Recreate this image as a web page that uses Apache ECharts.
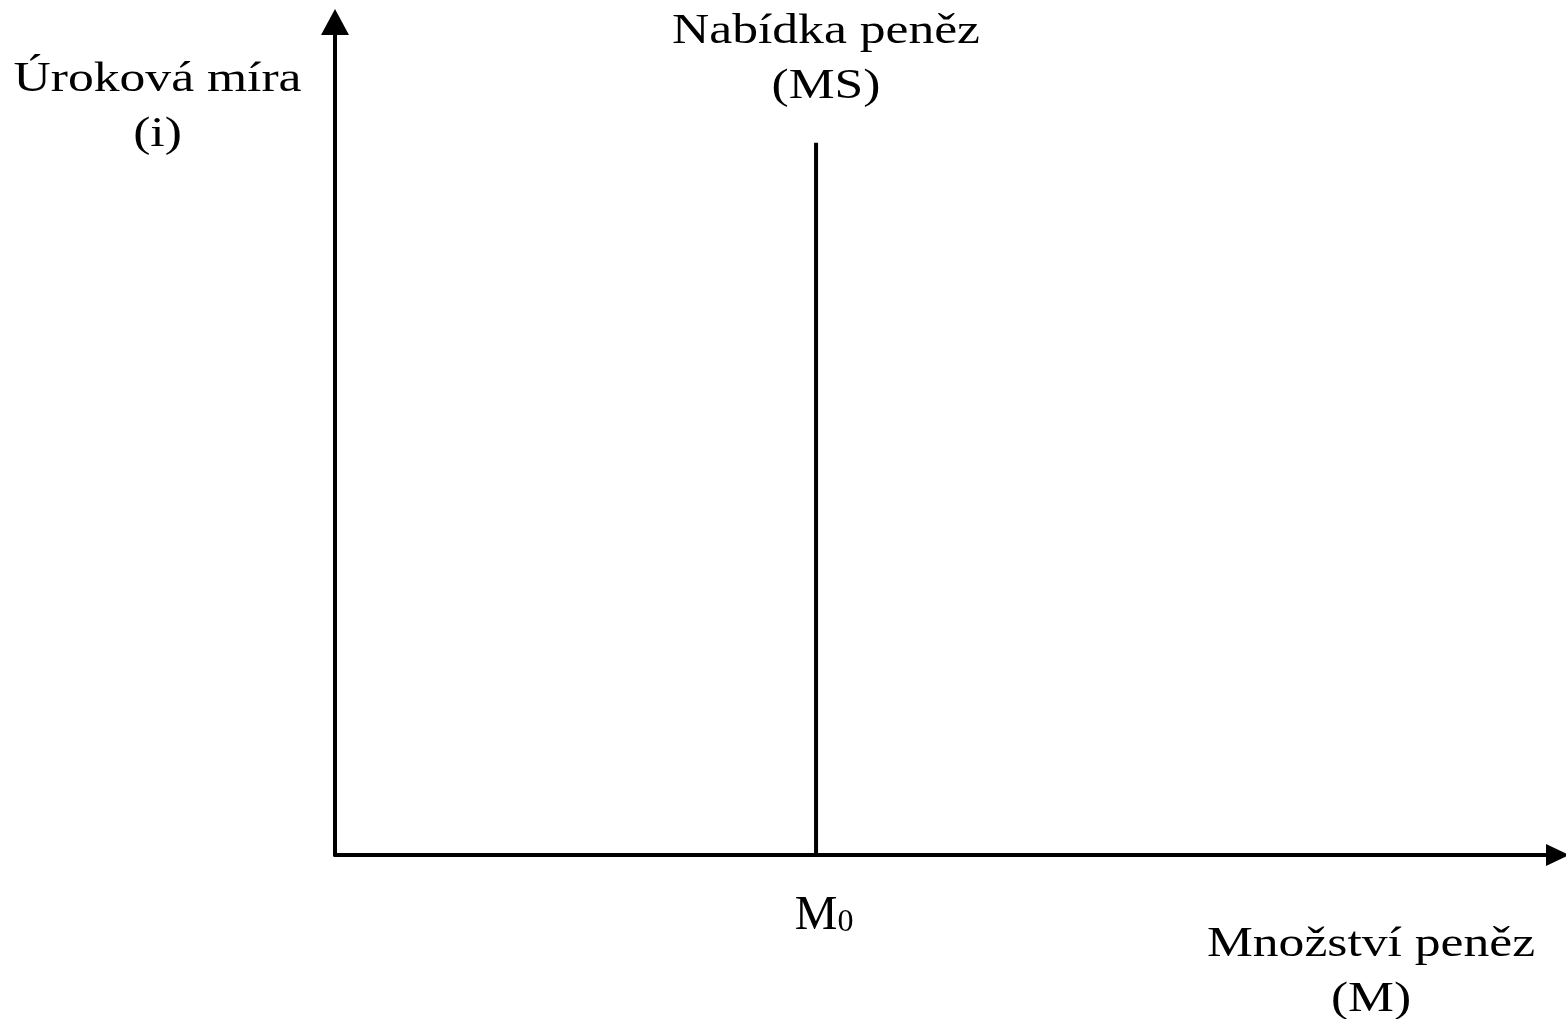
<!DOCTYPE html>
<html>
<head>
<meta charset="utf-8">
<script src="https://cdn.jsdelivr.net/npm/echarts@6/dist/echarts.min.js"></script>
<style>
  html, body { margin: 0; padding: 0; background: #fff; }
  #chart { width: 1566px; height: 1019px; }
</style>
</head>
<body>
<div id="chart"></div>
<script>
// ---- data ----
const xRange = [0, 100];           // quantity of money axis
const yRange = [0, 100];           // interest rate axis
const msQuantity = [39.35, 39.35]; // money supply M0 (vertical MS line)
const msRate = [0, 85.5];          // MS line from bottom to top
const xTickValues = [39.35];       // position of the M0 tick label
const xTickLabels = ['M0'];
const yAxisTitle = ['Úroková míra', '(i)'];
const xAxisTitle = ['Množství peněz', '(M)'];
const msTitle = ['Nabídka peněz', '(MS)'];

const FONT = '"Liberation Serif", "Times New Roman", serif';

const chart = echarts.init(document.getElementById('chart'), null, { renderer: 'canvas' });

function titleText(lines, cx, top) {
  return {
    type: 'text',
    x: cx,
    y: top,
    scaleX: 1.2,
    scaleY: 1,
    silent: true,
    style: {
      text: lines.join('\n'),
      font: '43px ' + FONT,
      fontSize: 43,
      fontFamily: FONT,
      lineHeight: 55,
      fill: '#000',
      textAlign: 'center',
      textVerticalAlign: 'top'
    }
  };
}

const option = {
  backgroundColor: '#fff',
  animation: false,
  grid: { left: 335, right: 8.5, top: 22, bottom: 164, containLabel: false },
  xAxis: {
    type: 'value',
    min: xRange[0],
    max: xRange[1],
    axisLine: {
      show: true,
      onZero: false,
      symbol: ['none', 'triangle'],
      symbolSize: [22, 23],
      lineStyle: { color: '#000', width: 4 }
    },
    axisTick: { show: false },
    splitLine: { show: false },
    axisLabel: {
      show: true,
      customValues: xTickValues,
      margin: 38,
      padding: [0, 0, 0, 16],
      formatter: function (v) {
        const i = xTickValues.indexOf(v);
        const t = i >= 0 ? xTickLabels[i] : '';
        return '{m|' + t.charAt(0) + '}{s|' + t.slice(1) + '}';
      },
      rich: {
        m: { fontFamily: FONT, fontSize: 48, lineHeight: 46, color: '#000' },
        s: { fontFamily: FONT, fontSize: 32, lineHeight: 46, color: '#000', verticalAlign: 'bottom' }
      }
    }
  },
  yAxis: {
    type: 'value',
    min: yRange[0],
    max: yRange[1],
    axisLine: {
      show: true,
      onZero: false,
      symbol: ['none', 'triangle'],
      symbolSize: [28, 26],
      lineStyle: { color: '#000', width: 4 }
    },
    axisTick: { show: false },
    splitLine: { show: false },
    axisLabel: { show: false }
  },
  series: [{
    type: 'line',
    data: msQuantity.map((x, i) => [x, msRate[i]]),
    showSymbol: false,
    symbol: 'none',
    silent: true,
    lineStyle: { color: '#000', width: 4 }
  }],
  graphic: [
    titleText(yAxisTitle, 157.5, 52),
    titleText(msTitle, 826, 4),
    titleText(xAxisTitle, 1371, 917)
  ]
};

chart.setOption(option);
</script>
</body>
</html>
